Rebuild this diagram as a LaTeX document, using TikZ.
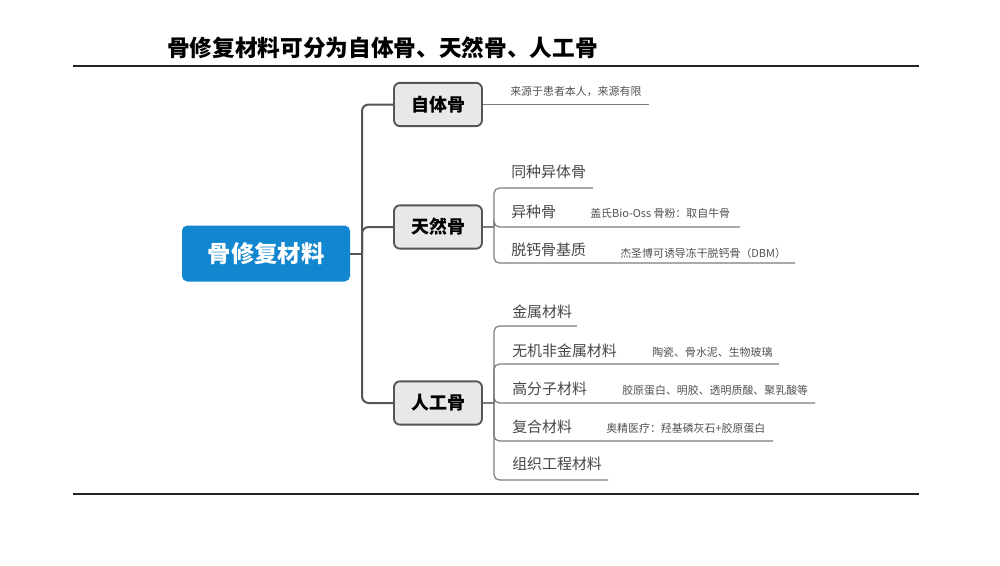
\documentclass[tikz,border=0pt]{standalone}
\usepackage{fontspec}
\setmainfont{Noto Sans CJK SC}
\usepackage{tikz}
\usetikzlibrary{positioning}
\definecolor{bonefigblue}{RGB}{18,134,206}
\definecolor{bonefiggray}{RGB}{85,85,85}
\definecolor{bonefigline}{RGB}{125,125,125}

\begin{document}
\begin{tikzpicture}[
      x=0.75pt, y=-0.75pt,
      rootbox/.style={fill=bonefigblue, rounded corners=4pt, minimum width=126pt, minimum height=42pt, inner sep=0pt, text=white, font=\fontsize{17.5}{20}\selectfont\bfseries},
      branchbox/.style={fill=black!9, draw=bonefiggray, line width=1.4pt, rounded corners=4.5pt, minimum width=66pt, minimum height=32.5pt, inner sep=0pt, font=\fontsize{13.5}{16}\selectfont\bfseries},
      sub/.style={anchor=west, inner sep=0pt, text=black!72, font=\fontsize{11.2}{13}\selectfont},
      note/.style={anchor=west, inner sep=0pt, text=black!68, font=\fontsize{8.2}{10}\selectfont},
      trunk/.style={draw=bonefiggray, line width=1.5pt, rounded corners=5pt},
      subline/.style={draw=bonefigline, line width=0.9pt, rounded corners=4pt},
      rule/.style={draw=black!85, line width=1.4pt}
    ]
      \useasboundingbox[fill=white] (0,0) rectangle (1000,565);

      % title and rules
      \node[anchor=west, inner sep=0pt, font=\fontsize{17}{20}\selectfont\bfseries] (title) at (167,48) {骨修复材料可分为自体骨、天然骨、人工骨};
      \coordinate (topl) at (73,66);  \coordinate (topr) at (919,66);
      \coordinate (botl) at (73,494); \coordinate (botr) at (919,494);
      \draw[rule] (topl) -- (topr);
      \draw[rule] (botl) -- (botr);

      % root and main branches
      \node[rootbox] (root) at (266,253.5) {骨修复材料};
      \node[branchbox] (zt) at (438,104.5) {自体骨};
      \node[branchbox] (tr) at (438,227) {天然骨};
      \node[branchbox] (rg) at (438,403) {人工骨};
      \coordinate (hub) at (362,253.5);
      \draw[trunk] (root.east) -- (hub);
      \draw[trunk] (hub) |- (zt.west);
      \draw[trunk] (hub) |- (tr.west);
      \draw[trunk] (hub) |- (rg.west);

      % 自体骨
      \coordinate (zt-e) at (649,104.5);
      \draw[subline] (zt.east) -- (zt-e);
      \node[note] (zt-n) at (510,91) {来源于患者本人，来源有限};

      % 天然骨
      \coordinate (tr-hub) at (494,227);
      \draw[subline] (tr.east) -- (tr-hub);
      \node[sub] (tr1) at (511,172) {同种异体骨};
      \node[sub] (tr2) at (511,212) {异种骨};
      \node[sub] (tr3) at (511,250) {脱钙骨基质};
      \coordinate (tr1-e) at (593,188);
      \coordinate (tr2-e) at (740,227);
      \coordinate (tr3-e) at (795,263);
      \foreach \k in {1,2,3}
        \draw[subline] (tr-hub) |- (tr\k-e);
      \node[note] (tr2-n) at (590,213) {盖氏Bio-Oss 骨粉：取自牛骨};
      \node[note] (tr3-n) at (620,253) {杰圣博可诱导冻干脱钙骨（DBM）};

      % 人工骨
      \coordinate (rg-hub) at (494,403);
      \draw[subline] (rg.east) -- (rg-hub);
      \node[sub] (rg1) at (512,312) {金属材料};
      \node[sub] (rg2) at (512,351) {无机非金属材料};
      \node[sub] (rg3) at (512,389) {高分子材料};
      \node[sub] (rg4) at (512,427) {复合材料};
      \node[sub] (rg5) at (512,464) {组织工程材料};
      \coordinate (rg1-e) at (577,326);
      \coordinate (rg2-e) at (779,364);
      \coordinate (rg3-e) at (815,403);
      \coordinate (rg4-e) at (773,441);
      \coordinate (rg5-e) at (608,480);
      \foreach \k in {1,...,5}
        \draw[subline] (rg-hub) |- (rg\k-e);
      \node[note] (rg2-n) at (652,352) {陶瓷、骨水泥、生物玻璃};
      \node[note] (rg3-n) at (622,390) {胶原蛋白、明胶、透明质酸、聚乳酸等};
      \node[note] (rg4-n) at (606,428) {奥精医疗：羟基磷灰石+胶原蛋白};
    \end{tikzpicture}
\end{document}
